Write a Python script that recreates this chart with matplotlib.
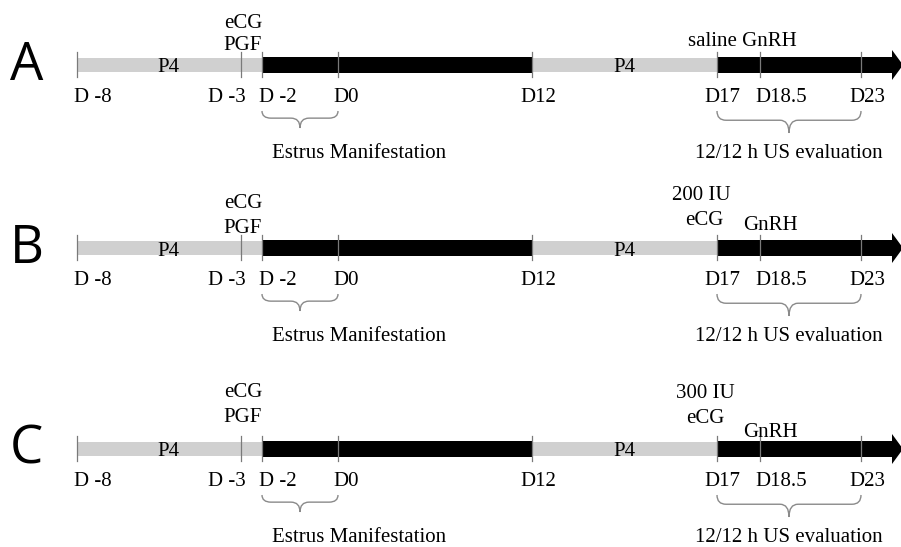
import matplotlib.pyplot as plt
from matplotlib.path import Path
from matplotlib.patches import PathPatch, Polygon

# timeline: day labels and where each day sits along the line (layout units)
day_labels = ['D -8', 'D -3', 'D -2', 'D0', 'D12', 'D17', 'D18.5', 'D23']
day_x = [77, 241, 262, 338, 532, 717, 760, 861]
label_x = [93, 227, 278, 346, 538, 722, 781, 867]

# phases: (start day index, end day index, colour, text)
phase_start = [0, 2, 4, 5]
phase_end = [2, 4, 5, 7]
phase_kind = ['grey', 'black', 'grey', 'black']
phase_text = ['P4', '', 'P4', '']
phase_text_x = [168, None, 624, None]

row_names = ['A', 'B', 'C']
row_y = [65, 248, 449]

# treatment notes above the line, per row: (text, x, baseline y)
left_notes = [
    [('eCG', 243, 28), ('PGF', 243, 50)],
    [('eCG', 243, 208), ('PGF', 243, 233)],
    [('eCG', 243, 397), ('PGF', 243, 422)],
]
right_notes = [
    [('saline GnRH', 742, 46)],
    [('200 IU', 701, 200), ('eCG', 704, 225), ('GnRH', 770, 230)],
    [('300 IU', 705, 398), ('eCG', 705, 423), ('GnRH', 770, 437)],
]

# braces under the line: (from day idx, to day idx, text, depth)
brace_from = [2, 5]
brace_to = [3, 7]
brace_text = ['Estrus Manifestation', '12/12 h US evaluation']
brace_depth = [17, 22]

GREY = '#d0d0d0'
SERIF = 'Liberation Serif'
FS = 15

fig = plt.figure(figsize=(9.01, 5.47), dpi=100, facecolor='white')
ax = fig.add_axes([0, 0, 1, 1])
ax.set_xlim(0, 901)
ax.set_ylim(547, 0)
ax.axis('off')


def brace(ax, x1, x2, y0, depth):
    ym = y0 + depth * 0.42
    tip = y0 + depth
    xm = (x1 + x2) / 2
    r = 9
    verts = [(x1, y0), (x1, ym), (x1 + r, ym), (xm - r, ym), (xm, ym), (xm, tip),
             (xm, ym), (xm + r, ym), (x2 - r, ym), (x2, ym), (x2, y0)]
    codes = [Path.MOVETO, Path.CURVE3, Path.CURVE3, Path.LINETO, Path.CURVE3, Path.CURVE3,
             Path.CURVE3, Path.CURVE3, Path.LINETO, Path.CURVE3, Path.CURVE3]
    ax.add_patch(PathPatch(Path(verts, codes), fill=False, edgecolor='#8a8a8a', lw=1.0))


for r, (name, y) in enumerate(zip(row_names, row_y)):
    # row letter
    ax.text(10, y + 15, name, fontsize=38, family='Open Sans', ha='left', va='baseline')

    # bars
    for s, e, kind, txt, tx in zip(phase_start, phase_end, phase_kind, phase_text, phase_text_x):
        x0, x1 = day_x[s], day_x[e]
        if kind == 'black' and e == len(day_x) - 1:
            x1 = 893
        h = 14 if kind == 'grey' else 16
        ax.fill_between([x0, x1], y - h / 2, y + h / 2,
                        color=GREY if kind == 'grey' else 'black', lw=0, zorder=2)
        if txt:
            ax.text(tx, y + 7.5, txt, fontsize=FS, family=SERIF, ha='center', va='baseline', zorder=4)
    ax.add_patch(Polygon([(892, y - 15), (903, y), (892, y + 15)], closed=True,
                         color='black', lw=0, zorder=3))

    # day ticks and labels
    for lab, dx, lx in zip(day_labels, day_x, label_x):
        ax.plot([dx, dx], [y - 13, y + 12], color='#7a7a7a', lw=0.9, zorder=3)
        ax.text(lx, y + 37, lab, fontsize=FS, family=SERIF, ha='center', va='baseline')

    # notes above
    for txt, tx, ty in left_notes[r] + right_notes[r]:
        ax.text(tx, ty, txt, fontsize=FS, family=SERIF, ha='center', va='baseline')

    # braces below
    for bf, bt, btxt, bd in zip(brace_from, brace_to, brace_text, brace_depth):
        x1, x2 = day_x[bf], day_x[bt]
        brace(ax, x1, x2, y + 46, bd)
        ax.text((x1 + x2) / 2 + (59 if bf == 2 else 0), y + 93, btxt,
                fontsize=FS, family=SERIF, ha='center', va='baseline')

fig.savefig('out.png', dpi=100, facecolor='white')
